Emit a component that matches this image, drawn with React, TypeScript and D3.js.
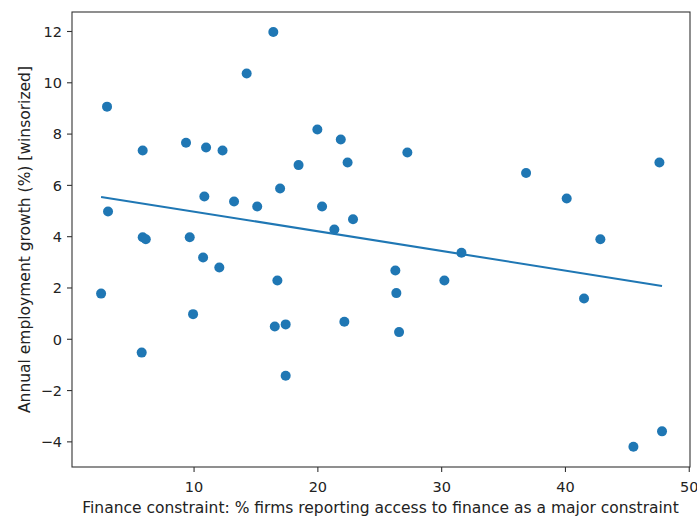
import React from "react";
import * as d3 from "d3";

const xValues = [2.49, 2.97, 3.05, 5.85, 5.85, 6.1, 5.77, 9.35, 10.97, 12.3, 10.83, 13.23, 9.65, 10.73, 12.04, 9.92, 14.25, 16.4, 15.1, 16.95, 18.44, 19.96, 20.34, 21.85, 22.4, 21.33, 22.84, 16.73, 16.52, 17.4, 17.4, 22.14, 27.23, 26.26, 26.34, 26.56, 30.22, 31.6, 36.82, 40.1, 42.82, 41.5, 47.59, 45.49, 47.8];
const yValues = [1.78, 9.07, 4.98, 7.36, 3.98, 3.9, -0.52, 7.66, 7.48, 7.36, 5.57, 5.37, 3.98, 3.19, 2.8, 0.98, 10.36, 11.98, 5.18, 5.88, 6.79, 8.18, 5.18, 7.79, 6.89, 4.28, 4.68, 2.29, 0.5, 0.58, -1.42, 0.68, 7.28, 2.68, 1.8, 0.28, 2.29, 3.37, 6.48, 5.49, 3.9, 1.59, 6.89, -4.19, -3.59];
const fitX = [2.49, 47.8];
const fitY = [5.55, 2.08];
const xTicks = [10, 20, 30, 40, 50];
const yTicks = [-4, -2, 0, 2, 4, 6, 8, 10, 12];
const xLabel = "Finance constraint: % firms reporting access to finance as a major constraint";
const yLabel = "Annual employment growth (%) [winsorized]";

const W = 697, H = 518;
const L = 72, R = 690, T = 12, B = 467;
const color = "#1f77b4";
const font = "DejaVu Sans, sans-serif";

export default function App() {
  const x = d3.scaleLinear().domain([0.14, 50.06]).range([L, R]);
  const y = d3.scaleLinear().domain([-4.98, 12.76]).range([B, T]);
  const line = d3.line<number>().x((d) => x(fitX[d])).y((d) => y(fitY[d]));
  return (
    <svg width={W} height={H} style={{ position: "absolute", left: 0, top: 0, background: "#fff" }}>
      <rect x={0} y={0} width={W} height={H} fill="#fff" />
      {xValues.map((v, i) => (
        <circle key={i} cx={x(v)} cy={y(yValues[i])} r={5} fill={color} />
      ))}
      <path d={line([0, 1]) || ""} stroke={color} strokeWidth={2.1} fill="none" />
      <rect x={L} y={T} width={R - L} height={B - T} fill="none" stroke="#333" strokeWidth={1.1} />
      {xTicks.map((t) => (
        <g key={t}>
          <line x1={x(t)} x2={x(t)} y1={B} y2={B + 5} stroke="#333" strokeWidth={1.1} />
          <text x={x(t)} y={B + 24.5} textAnchor="middle" fontFamily={font} fontSize={14.5} fill="#222">
            {t}
          </text>
        </g>
      ))}
      {yTicks.map((t) => (
        <g key={t}>
          <line x1={L - 5} x2={L} y1={y(t)} y2={y(t)} stroke="#333" strokeWidth={1.1} />
          <text x={L - 10} y={y(t) + 5.3} textAnchor="end" fontFamily={font} fontSize={14.5} fill="#222">
            {t < 0 ? "\u2212" + Math.abs(t) : t}
          </text>
        </g>
      ))}
      <text x={380.5} y={513} textAnchor="middle" fontFamily={font} fontSize={15.5} fill="#222">
        {xLabel}
      </text>
      <text
        transform={`translate(29.5,${(T + B) / 2}) rotate(-90)`}
        textAnchor="middle"
        fontFamily={font}
        fontSize={15.5}
        fill="#222"
      >
        {yLabel}
      </text>
    </svg>
  );
}
